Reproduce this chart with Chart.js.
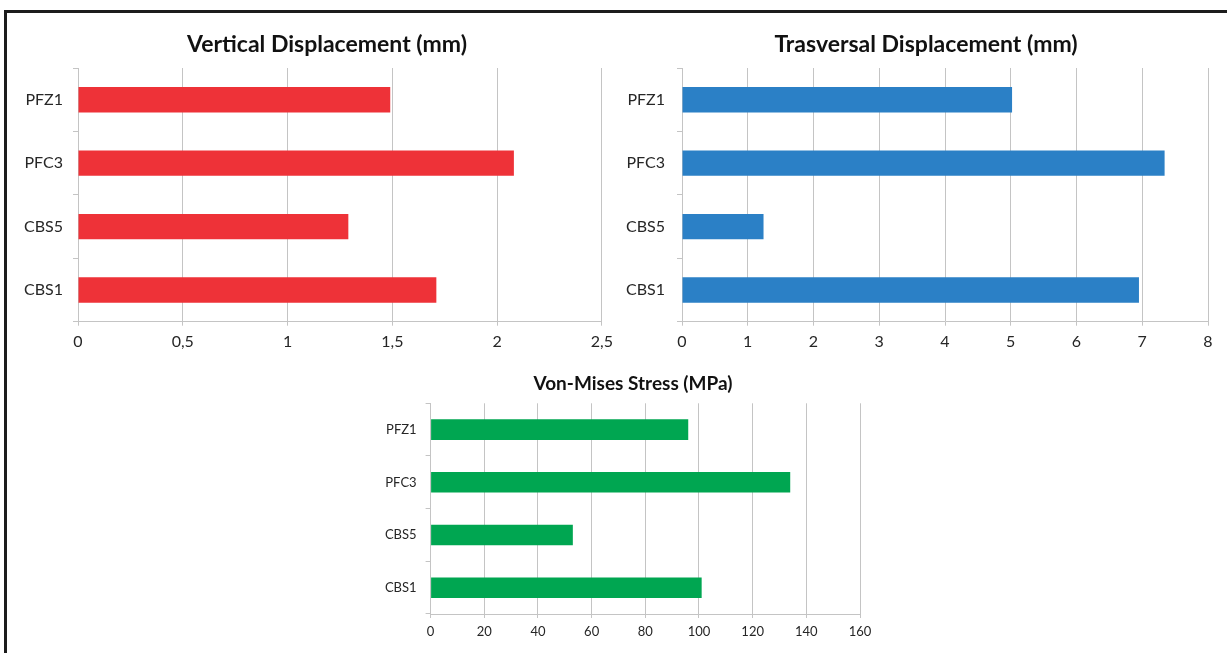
<!DOCTYPE html>
<html>
<head>
<meta charset="utf-8">
<title>Displacement and stress comparison</title>
<script src="https://cdn.jsdelivr.net/npm/chart.js@4.4.1/dist/chart.umd.min.js"></script>
<style>
    html, body { margin: 0; padding: 0; background: #ffffff; }
    body { width: 1227px; height: 653px; position: relative; overflow: hidden; }
    canvas { position: absolute; }
    #frame {
        position: absolute; left: 4px; top: 10px; right: 0; bottom: 0;
        border-left: 3px solid #1c1c1c; border-top: 3px solid #1c1c1c;
    }
</style>
</head>
<body>
<div id="frame"></div>
<canvas id="vertical-chart" width="620" height="360" style="left:0;top:0"></canvas>
<canvas id="trasversal-chart" width="612" height="360" style="left:615px;top:0"></canvas>
<canvas id="stress-chart" width="520" height="293" style="left:360px;top:360px"></canvas>
<script>
// Specimens (top to bottom, as in the figure)
const specimens = ['PFZ1', 'PFC3', 'CBS5', 'CBS1'];

// Values
const verticalDisp = [1.49, 2.08, 1.29, 1.71];     // mm
const trasversalDisp = [5.02, 7.34, 1.24, 6.95];   // mm
const vonMisesStress = [96, 134, 53, 101];         // MPa

// Axis tick labels (comma decimals, as in the original)
const verticalTicks = ['0', '0,5', '1', '1,5', '2', '2,5'];
const trasversalTicks = ['0', '1', '2', '3', '4', '5', '6', '7', '8'];
const stressTicks = ['0', '20', '40', '60', '80', '100', '120', '140', '160'];

const FONT = 'Lato, "Open Sans", sans-serif';
const gridColor = '#c4c4c4';
const labelColor = '#262626';

// Excel-style title: centred over the whole chart, not over the plot area,
// so it is drawn here at its own position instead of with the built-in title
const chartTitlePlugin = {
    id: 'chartTitle',
    afterDraw(chart, args, opts) {
        const ctx = chart.ctx;
        ctx.save();
        ctx.font = `bold ${opts.size}px ${FONT}`;
        ctx.fillStyle = '#111111';
        ctx.textAlign = 'center';
        ctx.textBaseline = 'middle';
        ctx.fillText(opts.text, opts.x, opts.y);
        ctx.restore();
    }
};

function makeBarChart(id, values, color, cfg) {
    const ctx = document.getElementById(id).getContext('2d');
    return new Chart(ctx, {
        type: 'bar',
        data: {
            labels: specimens,
            datasets: [{
                data: values,
                backgroundColor: color,
                borderWidth: 0,
                barPercentage: cfg.barPct,
                categoryPercentage: 1
            }]
        },
        plugins: [chartTitlePlugin],
        options: {
            indexAxis: 'y',
            responsive: false,
            animation: false,
            devicePixelRatio: 1,
            layout: { padding: cfg.padding },
            plugins: {
                legend: { display: false },
                tooltip: { enabled: false },
                chartTitle: cfg.title
            },
            scales: {
                x: {
                    min: 0,
                    max: cfg.max,
                    ticks: {
                        stepSize: cfg.step,
                        color: labelColor,
                        padding: cfg.xTickPad,
                        maxRotation: 0,
                        font: { family: FONT, size: cfg.tickSize },
                        callback: (v, i) => cfg.tickLabels[i]
                    },
                    grid: { color: gridColor, tickColor: gridColor, tickLength: 4 },
                    border: { color: gridColor },
                    afterFit: scale => { scale.height = cfg.xAxisHeight; }
                },
                y: {
                    ticks: {
                        color: labelColor,
                        padding: cfg.yTickPad,
                        font: { family: FONT, size: cfg.tickSize }
                    },
                    grid: { drawOnChartArea: false, color: gridColor, tickColor: gridColor, tickLength: 5 },
                    border: { color: gridColor },
                    afterFit: scale => { scale.width = cfg.yAxisWidth; }
                }
            }
        }
    });
}

makeBarChart('vertical-chart', verticalDisp, '#ee3238', {
    title: { text: 'Vertical Displacement (mm)', size: 23, x: 327, y: 44.5 },
    tickSize: 16,
    max: 2.5, step: 0.5, tickLabels: verticalTicks,
    barPct: 0.4, xTickPad: 7, yTickPad: 10,
    xAxisHeight: 38.3, yAxisWidth: 78,
    padding: { top: 68, left: 0, right: 14, bottom: 0 }
});

makeBarChart('trasversal-chart', trasversalDisp, '#2b80c6', {
    title: { text: 'Trasversal Displacement (mm)', size: 23, x: 311, y: 44.5 },
    tickSize: 16,
    max: 8, step: 1, tickLabels: trasversalTicks,
    barPct: 0.4, xTickPad: 7, yTickPad: 12,
    xAxisHeight: 38.3, yAxisWidth: 67,
    padding: { top: 68, left: 0, right: 19, bottom: 0 }
});

makeBarChart('stress-chart', vonMisesStress, '#00a651', {
    title: { text: 'Von-Mises Stress (MPa)', size: 19, x: 273, y: 24 },
    tickSize: 13,
    max: 160, step: 20, tickLabels: stressTicks,
    barPct: 0.39, xTickPad: 6, yTickPad: 9,
    xAxisHeight: 39, yAxisWidth: 70.6,
    padding: { top: 43.3, left: 0, right: 20, bottom: 0 }
});
</script>
</body>
</html>
